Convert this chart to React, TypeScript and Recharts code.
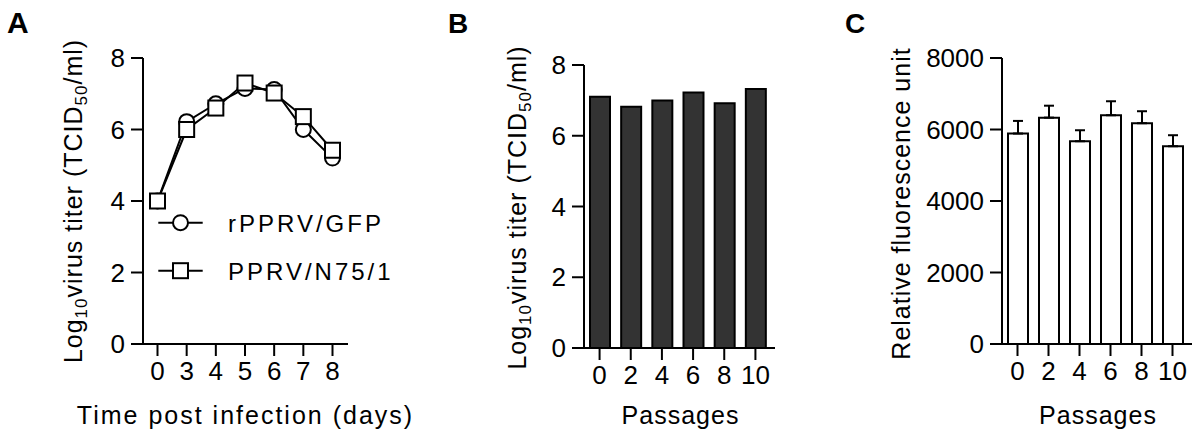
import React from 'react';
import { LineChart, Line, XAxis, YAxis, BarChart, Bar, ErrorBar, Legend } from 'recharts';

// ---- Data ----
const days = ['0', '3', '4', '5', '6', '7', '8'];
const gfpTiter = [4.0, 6.22, 6.72, 7.15, 7.12, 6.0, 5.2];
const n75Titer = [4.0, 6.0, 6.6, 7.3, 7.02, 6.36, 5.42];
const seriesNames = ['rPPRV/GFP', 'PPRV/N75/1'];

const passages = ['0', '2', '4', '6', '8', '10'];
const passageTiter = [7.1, 6.82, 7.0, 7.22, 6.92, 7.32];

const rfuMean = [5887, 6332, 5672, 6399, 6176, 5532];
const rfuSd = [353, 334, 307, 391, 335, 308];

const titerTicks = [0, 2, 4, 6, 8];
const rfuTicks = [0, 2000, 4000, 6000, 8000];

const lineData = days.map((d, i) => ({ day: d, gfp: gfpTiter[i], n75: n75Titer[i] }));
const bData = passages.map((p, i) => ({ p, titer: passageTiter[i] }));
const cData = passages.map((p, i) => ({ p, rfu: rfuMean[i], err: [0, rfuSd[i]] }));

const FONT = "'Liberation Sans', Arial, Helvetica, sans-serif";
const tickStyle = { fill: '#000', fontSize: 26, fontFamily: FONT };
const lineStyle = { stroke: '#000', strokeWidth: 2 };

const CircleDot = (props: any) => {
  const { cx, cy } = props;
  if (cx == null || cy == null) return null;
  return <circle key={props.index} cx={cx} cy={cy} r={7.5} fill="#fff" stroke="#000" strokeWidth={2} />;
};
const SquareDot = (props: any) => {
  const { cx, cy } = props;
  if (cx == null || cy == null) return null;
  return <rect key={props.index} x={cx - 7.5} y={cy - 7.5} width={15} height={15} fill="#fff" stroke="#000" strokeWidth={2} />;
};

const makeXTitle = (text: string, baseline: number, dx: number, spacing: number) => (props: any) => {
  const vb = props.viewBox || { x: 0, y: 0, width: 0, height: 0 };
  return (
    <text x={vb.x + vb.width / 2 + dx} y={baseline} textAnchor="middle" fontSize={25} fontFamily={FONT} letterSpacing={spacing} fill="#000">
      {text}
    </text>
  );
};

const makeYTitle = (kind: 'titer' | 'rfu', bx: number, cy: number) => (props: any) => {
  return (
    <text x={bx} y={cy} transform={`rotate(-90 ${bx} ${cy})`} textAnchor="middle" fontSize={25} fontFamily={FONT} letterSpacing={1} fill="#000">
      {kind === 'titer' ? (
        <>
          <tspan>Log</tspan>
          <tspan fontSize={17} dy={5}>10</tspan>
          <tspan dy={-5}>virus titer (TCID</tspan>
          <tspan fontSize={17} dy={5}>50</tspan>
          <tspan dy={-5}>/ml)</tspan>
        </>
      ) : (
        'Relative fluorescence unit'
      )}
    </text>
  );
};

const LegendContent = () => {
  const rows = [24.7, 72.7];
  return (
    <svg width={260} height={100} style={{ overflow: 'visible' }}>
      {seriesNames.map((name, i) => (
        <g key={name}>
          <line x1={8.3} x2={52.7} y1={rows[i]} y2={rows[i]} stroke="#000" strokeWidth={2} />
          {i === 0 ? (
            <circle cx={30.5} cy={rows[i]} r={7.5} fill="#fff" stroke="#000" strokeWidth={2} />
          ) : (
            <rect x={23} y={rows[i] - 7.5} width={15} height={15} fill="#fff" stroke="#000" strokeWidth={2} />
          )}
          <text x={78} y={rows[i] + 9.5} fontSize={24} fontFamily={FONT} letterSpacing={3} fill="#000">
            {name}
          </text>
        </g>
      ))}
    </svg>
  );
};

const PanelLetter = ({ x, text, size }: { x: number; text: string; size: number }) => (
  <text x={x} y={33} fontSize={size} fontWeight="bold" fontFamily={FONT} fill="#000">
    {text}
  </text>
);

export default function App() {
  return (
    <div style={{ position: 'absolute', left: 0, top: 0, width: 1200, height: 438, background: '#fff', fontFamily: FONT }}>
      <svg width={1200} height={438} style={{ position: 'absolute', left: 0, top: 0 }}>
        <PanelLetter x={7} text="A" size={30} />
        <PanelLetter x={448} text="B" size={28} />
        <PanelLetter x={845} text="C" size={28} />
      </svg>

      <div style={{ position: 'absolute', left: 0, top: 0 }}>
        <LineChart width={420} height={438} data={lineData} margin={{ top: 58, right: 72, left: 0, bottom: 0 }}>
          <XAxis
            dataKey="day"
            height={94}
            interval={0}
            padding={{ left: 14.5, right: 15.5 }}
            tickSize={12}
            tickMargin={6}
            tick={tickStyle}
            axisLine={lineStyle}
            tickLine={lineStyle}
            label={{ content: makeXTitle('Time post infection (days)', 424, 0, 2) }}
          />
          <YAxis
            width={143}
            domain={[0, 8]}
            ticks={titerTicks}
            interval={0}
            tickSize={12}
            tickMargin={6}
            tick={tickStyle}
            axisLine={lineStyle}
            tickLine={lineStyle}
            label={{ content: makeYTitle('titer', 82, 201) }}
          />
          <Legend
            layout="horizontal"
            verticalAlign="middle"
            align="center"
            content={<LegendContent />}
            wrapperStyle={{ left: 150, top: 198, width: 260, height: 100 }}
          />
          <Line dataKey="gfp" name={seriesNames[0]} stroke="#000" strokeWidth={2} dot={CircleDot} activeDot={false} isAnimationActive={false} />
          <Line dataKey="n75" name={seriesNames[1]} stroke="#000" strokeWidth={2} dot={SquareDot} activeDot={false} isAnimationActive={false} />
        </LineChart>
      </div>

      <div style={{ position: 'absolute', left: 420, top: 0 }}>
        <BarChart width={380} height={438} data={bData} margin={{ top: 65, right: 25, left: 0, bottom: 0 }}>
          <XAxis
            dataKey="p"
            height={90}
            interval={0}
            padding={{ left: 0, right: 4 }}
            tickSize={12}
            tickMargin={6}
            tick={tickStyle}
            axisLine={lineStyle}
            tickLine={lineStyle}
            label={{ content: makeXTitle('Passages', 424, 1, 1) }}
          />
          <YAxis
            width={164}
            domain={[0, 8]}
            ticks={titerTicks}
            interval={0}
            tickSize={12}
            tickMargin={6}
            tick={tickStyle}
            axisLine={lineStyle}
            tickLine={lineStyle}
            label={{ content: makeYTitle('titer', 106, 207.5) }}
          />
          <Bar dataKey="titer" fill="#333333" stroke="#000" strokeWidth={2} barSize={20} isAnimationActive={false} />
        </BarChart>
      </div>

      <div style={{ position: 'absolute', left: 800, top: 0 }}>
        <BarChart width={400} height={438} data={cData} margin={{ top: 58, right: 8, left: 0, bottom: 0 }}>
          <XAxis
            dataKey="p"
            height={94}
            interval={0}
            padding={{ left: 0, right: 4 }}
            tickSize={12}
            tickMargin={6}
            tick={tickStyle}
            axisLine={lineStyle}
            tickLine={lineStyle}
            label={{ content: makeXTitle('Passages', 424, 1, 1) }}
          />
          <YAxis
            width={202}
            domain={[0, 8000]}
            ticks={rfuTicks}
            interval={0}
            tickSize={12}
            tickMargin={6}
            tick={tickStyle}
            axisLine={lineStyle}
            tickLine={lineStyle}
            label={{ content: makeYTitle('rfu', 110, 203.5) }}
          />
          <Bar dataKey="rfu" fill="#fff" stroke="#000" strokeWidth={2} barSize={20} isAnimationActive={false}>
            <ErrorBar dataKey="err" width={5} stroke="#000" strokeWidth={2} direction="y" />
          </Bar>
        </BarChart>
      </div>
    </div>
  );
}
